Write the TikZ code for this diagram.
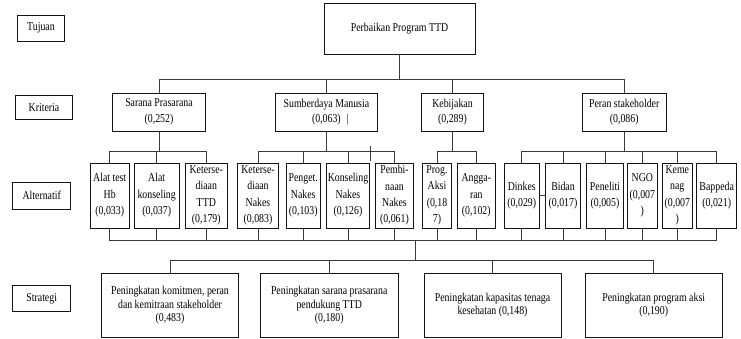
\documentclass[tikz,border=0pt]{standalone}
\usepackage{fontspec}
\setmainfont{Liberation Serif}[FakeStretch=0.82]
\usepackage{tikz}
\usepackage{xcolor}
\definecolor{ink}{HTML}{141414}
\definecolor{wire}{HTML}{3A3A3A}
\tikzset{box/.style={draw=ink,line width=0.9pt,inner sep=0pt,align=center},
  lvl/.style={box,minimum height=26,font=\fontsize{12}{14}\selectfont},
  krit/.style={box,minimum height=38,font=\fontsize{12}{15.6}\selectfont},
  alt/.style={box,minimum height=65,font=\fontsize{12}{16.4}\selectfont},
  strat/.style={box,minimum width=137,minimum height=64,font=\fontsize{12}{13.5}\selectfont},
  link/.style={draw=wire,line width=0.8pt}}

\begin{document}
\begin{tikzpicture}[x=1pt,y=-1pt]
  \useasboundingbox (0,0) rectangle (741,338);
  % level labels
  \node[lvl,minimum width=46.5] (tujuan) at (41,28.3) {Tujuan};
  \node[lvl,minimum width=56.5,minimum height=23.5] (kriteria) at (44,107.4) {Kriteria};
  \node[lvl,minimum width=58,minimum height=27] (alternatif) at (41.7,195.8) {Alternatif};
  \node[lvl,minimum width=58] (strategi) at (41.7,298.9) {Strategi};
  % goal
  \node[box,minimum width=151,minimum height=51,font=\fontsize{12}{14}\selectfont] (goal) at (399.5,28.5) {Perbaikan Program TTD};
  % criteria
  \node[krit,minimum width=92.6] (k1) at (159,112) {Sarana Prasarana\\(0,252)};
  \node[krit,minimum width=102] (k2) at (326.4,112) {Sumberdaya Manusia\\(0,063)\rlap{\enspace|}};
  \node[krit,minimum width=61.6] (k3) at (452.5,112) {Kebijakan\\(0,289)};
  \node[krit,minimum width=83.7] (k4) at (624.2,112) {Peran stakeholder\\(0,086)};
  % alternatives
  \node[alt,minimum width=39.3] (a1) at (109.7,195.5) {Alat test\\Hb\\(0,033)};
  \node[alt,minimum width=44.7] (a2) at (156.7,195.5) {Alat\\konseling\\(0,037)};
  \node[alt,minimum width=42.7] (a3) at (206.3,195.5) {Keterse-\\diaan\\TTD\\(0,179)};
  \node[alt,minimum width=41.4] (a4) at (258,195.5) {Keterse-\\diaan\\Nakes\\(0,083)};
  \node[alt,minimum width=34.3] (a5) at (303.2,195.5) {Penget.\\Nakes\\(0,103)};
  \node[alt,minimum width=42.6] (a6) at (348,195.5) {Konseling\\Nakes\\(0,126)};
  \node[alt,minimum width=37.6] (a7) at (394.5,195.5) {Pembi-\\naan\\Nakes\\(0,061)};
  \node[alt,minimum width=29.4] (a8) at (437,195.5) {Prog.\\Aksi\\(0,18\\7)};
  \node[alt,minimum width=38] (a9) at (476.3,195.5) {Angga-\\ran\\(0,102)};
  \node[alt,minimum width=35] (a10) at (521.8,195.5) {Dinkes\\(0,029)};
  \node[alt,minimum width=34.6] (a11) at (563,195.5) {Bidan\\(0,017)};
  \node[alt,minimum width=36.6] (a12) at (605,195.5) {Peneliti\\(0,005)};
  \node[alt,minimum width=30] (a13) at (642.3,195.5) {NGO\\(0,007\\)};
  \node[alt,minimum width=30] (a14) at (677.3,195.5) {Keme\\nag\\(0,007\\)};
  \node[alt,minimum width=40] (a15) at (716.7,195.5) {Bappeda\\(0,021)};
  % strategies
  \node[strat] (s1) at (170,305.3) {Peningkatan komitmen, peran\\dan kemitraan stakeholder\\(0,483)};
  \node[strat,minimum width=138.3] (s2) at (329.2,305.3) {Peningkatan sarana prasarana\\pendukung TTD\\(0,180)};
  \node[strat] (s3) at (492.5,305.3) {Peningkatan kapasitas tenaga\\kesehatan (0,148)};
  \node[strat,minimum width=137.3] (s4) at (653.7,305.3) {Peningkatan program aksi\\(0,190)};
  % goal to criteria
  \coordinate (kbus) at (0,79);
  \draw[link] (goal.south) -- (goal.south |- kbus);
  \draw[link] (k1.north |- kbus) -- (k4.north |- kbus);
  \foreach \k in {k1,k2,k3,k4} \draw[link] (\k.north) -- (\k.north |- kbus);
  % criteria to alternatives
  \coordinate (abus) at (0,151);
  \foreach \k/\first/\last/\kids in {k1/a1/a3/{a1,a2,a3},k2/a4/a7/{a4,a5,a6,a7},
      k3/a8/a9/{a8,a9},k4/a10/a15/{a10,a11,a12,a13,a14,a15}}{
    \draw[link] (\k.south) -- (\k.south |- abus);
    \draw[link] (\first.north |- abus) -- (\last.north |- abus);
    \foreach \a in \kids \draw[link] (\a.north) -- (\a.north |- abus);
  }
  \draw[link] (a10) -- (a11);
  \draw[link] (370.7,146) -- (370.7,161);
  % alternatives to strategies
  \coordinate (bbus) at (0,240.5);
  \draw[link] (a1.south |- bbus) -- (a15.south |- bbus);
  \foreach \i in {1,...,15} \draw[link] (a\i.south) -- (a\i.south |- bbus);
  \coordinate (drop) at (415,240.5);
  \coordinate (sbus) at (0,260.5);
  \draw[link] (drop) -- (drop |- sbus);
  \draw[link] (s1.north |- sbus) -- (s4.north |- sbus);
  \foreach \s in {s1,s2,s3,s4} \draw[link] (\s.north) -- (\s.north |- sbus);
\end{tikzpicture}
\end{document}
